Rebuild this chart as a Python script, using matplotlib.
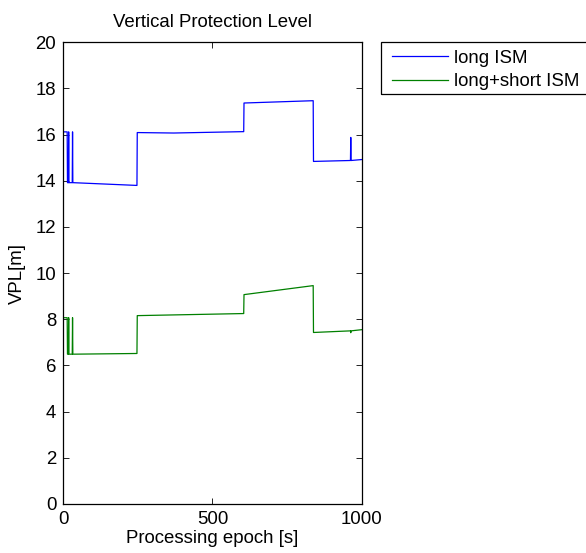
import matplotlib
matplotlib.use("Agg")
import matplotlib.pyplot as plt
from matplotlib.patches import Rectangle

plt.rcParams['font.family'] = ['Liberation Sans', 'DejaVu Sans']
plt.rcParams['font.size'] = 13.4

# VPL breakpoints (epoch [s], VPL [m]) for both integrity models
epoch_long = [0, 13, 14, 17, 18, 19, 30, 31, 32, 247, 248, 370, 605, 606, 838, 839, 963, 964, 965, 1000]
vpl_long = [16.12, 16.12, 13.92, 13.92, 16.12, 13.92, 13.92, 16.12, 13.92, 13.80, 16.09, 16.07,
            16.13, 17.37, 17.47, 14.84, 14.88, 15.88, 14.88, 14.92]

epoch_short = [0, 13, 14, 17, 18, 19, 30, 31, 32, 247, 248, 605, 606, 838, 839, 963, 964, 965, 1000]
vpl_short = [8.07, 8.07, 6.49, 6.49, 8.07, 6.49, 6.49, 8.07, 6.49, 6.52, 8.16, 8.25,
             9.07, 9.46, 7.43, 7.50, 7.42, 7.50, 7.55]

series_names = ['long ISM', 'long+short ISM']
x_ticks = [0, 500, 1000]
y_ticks = [0, 2, 4, 6, 8, 10, 12, 14, 16, 18, 20]

W, H = 586, 553
fig = plt.figure(figsize=(W / 100, H / 100), dpi=100)
ax = fig.add_axes([63.3 / W, 1 - 504 / H, (361.5 - 63.3) / W, (504 - 42.3) / H])

l1, = ax.plot(epoch_long, vpl_long, color='#0000ff', lw=0.9)
l2, = ax.plot(epoch_short, vpl_short, color='#008000', lw=0.9)

ax.set_xlim(0, 1000)
ax.set_ylim(0, 20)
ax.set_xticks(x_ticks)
ax.set_yticks(y_ticks)
ax.tick_params(direction='in', length=4.5, width=0.6, top=True, right=True, pad=5)
for sp in ax.spines.values():
    sp.set_linewidth(0.9)

ax.set_title('Vertical Protection Level', pad=11.2, fontsize=13.4)
ax.set_xlabel('Processing epoch [s]', labelpad=1.5)
ax.set_ylabel('VPL[m]')
ax.yaxis.set_label_coords(-0.125, 0.5)

# legend box outside the axes, clipped by the figure edge
fig.patches.append(Rectangle((380.7 / W, 1 - 94 / H), (W - 380.7 + 5) / W, (94 - 42.3) / H,
                             transform=fig.transFigure, fill=False, edgecolor='black', lw=0.9))
fig.legend([l1, l2], series_names, loc='upper left',
           bbox_to_anchor=(392 / W, 1 - 49.5 / H), frameon=False, borderpad=0, borderaxespad=0,
           handlelength=3.03, handletextpad=0.3, labelspacing=0.36)

fig.savefig('out.png', dpi=100)
